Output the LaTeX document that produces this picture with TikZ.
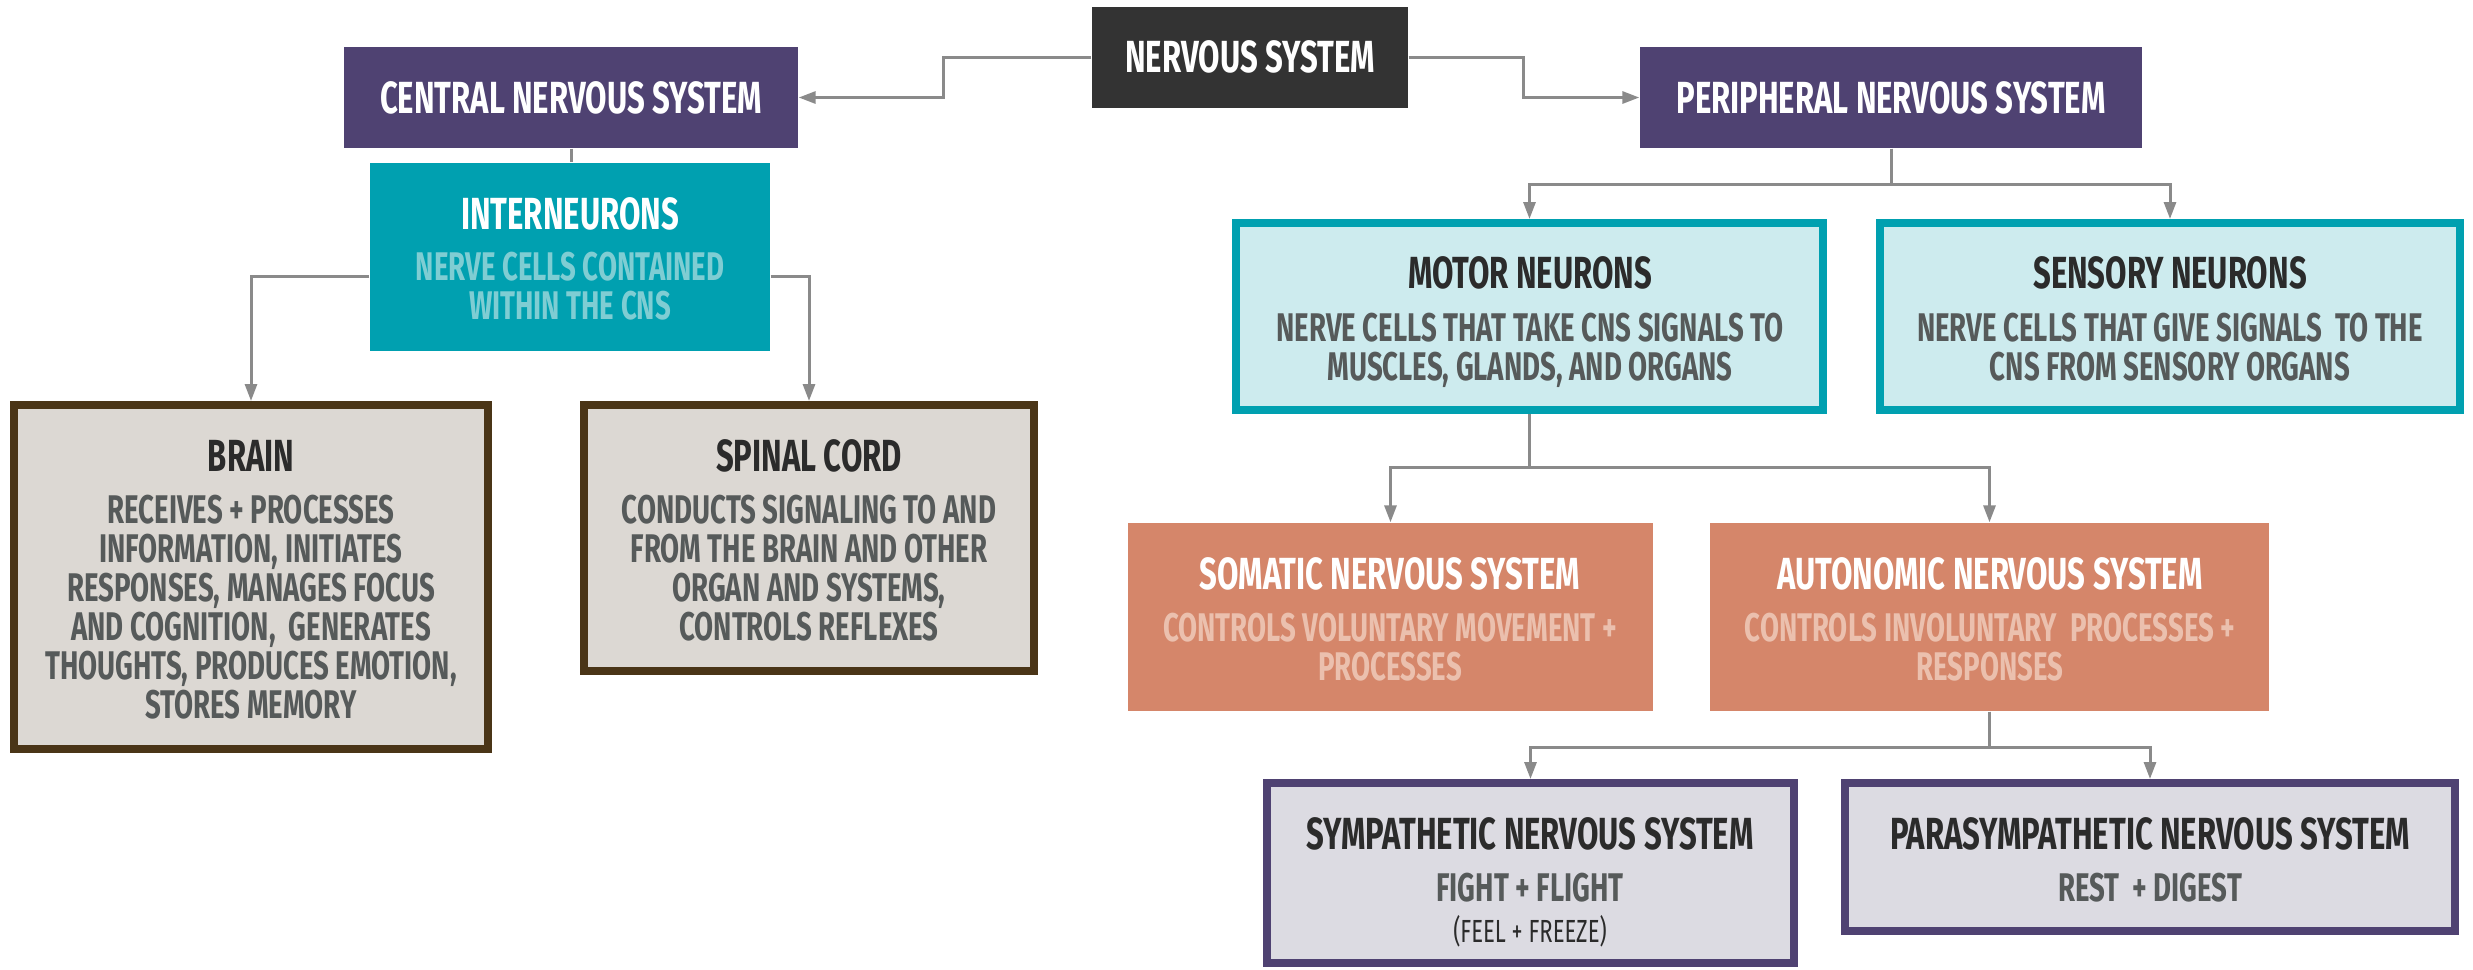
\documentclass[tikz,border=0pt]{standalone}
\usepackage{fontspec}
\setmainfont{Fira Sans}[FakeStretch=0.69]
\usetikzlibrary{arrows.meta}
\definecolor{nsdark}{HTML}{333333}
\definecolor{purp}{HTML}{4F4272}
\definecolor{teal}{HTML}{00A0B0}
\definecolor{tealtxt}{HTML}{7FCDD3}
\definecolor{motorfill}{HTML}{CDEBEE}
\definecolor{darktxt}{HTML}{2B2B2B}
\definecolor{greytxt}{HTML}{565A5A}
\definecolor{brainfill}{HTML}{DCD8D3}
\definecolor{brainborder}{HTML}{4A3517}
\definecolor{orng}{HTML}{D5866A}
\definecolor{orngtxt}{HTML}{EBC0AE}
\definecolor{lavfill}{HTML}{DCDBE2}
\definecolor{linegray}{HTML}{8A8A8A}
\newcommand\tlines[5]{%
  \foreach \t [count=\i] in {#5} {\node[#4] (#1-\i) at (#2,{#3+39*(\i-1)}) {\t};}}
\begin{document}
\begin{tikzpicture}[x=0.3pt,y=-0.3pt,
  box/.style={inner sep=0pt,draw=none},
  fillbox/.style={box,fill=#1},
  framebox/.style 2 args={box,fill=#1,draw=#2,line width=2.4pt},
  title/.style={anchor=base,inner sep=0pt,font=\fontsize{13.5}{13.5}\selectfont\bfseries},
  desc/.style={anchor=base,inner sep=0pt,font=\fontsize{12}{12}\selectfont\bfseries},
  conn/.style={draw=linegray,line width=0.9pt},
  arr/.style={conn,-{Triangle[length=5.1pt,width=3.6pt]}}]
\useasboundingbox (0,0) rectangle (2473,969);
% boxes
\node[fillbox=nsdark,minimum width=316*0.3pt,minimum height=101*0.3pt] (ns) at (1250,57.5) {};
\node[fillbox=purp,minimum width=454*0.3pt,minimum height=101*0.3pt] (cns) at (571,97.5) {};
\node[fillbox=purp,minimum width=502*0.3pt,minimum height=101*0.3pt] (pns) at (1891,97.5) {};
\node[fillbox=teal,minimum width=400*0.3pt,minimum height=188*0.3pt] (int) at (570,257) {};
\node[framebox={motorfill}{teal},minimum width=587*0.3pt,minimum height=187*0.3pt] (motor) at (1529.5,316.5) {};
\node[framebox={motorfill}{teal},minimum width=580*0.3pt,minimum height=187*0.3pt] (sensory) at (2170,316.5) {};
\node[framebox={brainfill}{brainborder},minimum width=474*0.3pt,minimum height=344*0.3pt] (brain) at (251,577) {};
\node[framebox={brainfill}{brainborder},minimum width=450*0.3pt,minimum height=266*0.3pt] (spinal) at (809,538) {};
\node[fillbox=orng,minimum width=525*0.3pt,minimum height=188*0.3pt] (somatic) at (1390.5,617) {};
\node[fillbox=orng,minimum width=559*0.3pt,minimum height=188*0.3pt] (autonomic) at (1989.5,617) {};
\node[framebox={lavfill}{purp},minimum width=527*0.3pt,minimum height=180*0.3pt] (sym) at (1530.5,873) {};
\node[framebox={lavfill}{purp},minimum width=610*0.3pt,minimum height=148*0.3pt] (para) at (2150,857) {};
% connectors
\draw[arr] (ns.west) -- ++(-148,0) |- (cns.east);
\draw[arr] (ns.east) -- ++(115,0) |- (pns.west);
\draw[conn] (cns.south) -- (cns.south |- int.north);
\draw[arr] ([yshift=-5.7pt]int.west) -| (brain.north);
\draw[arr] ([yshift=-5.7pt]int.east) -| (spinal.north);
\draw[arr] (pns.south) -- ++(0,36) -| (motor.north);
\draw[arr] (pns.south) -- ++(0,36) -| (sensory.north);
\draw[arr] (motor.south) -- ++(0,53) -| (somatic.north);
\draw[arr] (motor.south) -- ++(0,53) -| (autonomic.north);
\draw[arr] (autonomic.south) -- ++(0,36) -| (sym.north);
\draw[arr] (autonomic.south) -- ++(0,36) -| (para.north);
% texts
\node[title,white] (ns-t) at (1250,72) {NERVOUS SYSTEM};
\node[title,white] (cns-t) at (571,113) {CENTRAL NERVOUS SYSTEM};
\node[title,white] (pns-t) at (1891,113) {PERIPHERAL NERVOUS SYSTEM};
\node[title,white] (int-t) at (570,229) {INTERNEURONS};
\tlines{int-d}{570}{280}{desc,tealtxt}{NERVE CELLS CONTAINED,WITHIN THE CNS}
\node[title,darktxt] (motor-t) at (1530,288) {MOTOR NEURONS};
\tlines{motor-d}{1530}{341}{desc,greytxt}{NERVE CELLS THAT TAKE CNS SIGNALS TO,{MUSCLES, GLANDS, AND ORGANS}}
\node[title,darktxt] (sensory-t) at (2170,288) {SENSORY NEURONS};
\tlines{sensory-d}{2170}{341}{desc,greytxt}{NERVE CELLS THAT GIVE SIGNALS\ \ TO THE,CNS FROM SENSORY ORGANS}
\node[title,darktxt] (brain-t) at (251,471) {BRAIN};
\tlines{brain-d}{251}{523}{desc,greytxt}{RECEIVES + PROCESSES,{INFORMATION, INITIATES},{RESPONSES, MANAGES FOCUS},{AND COGNITION,\ \ GENERATES},{THOUGHTS, PRODUCES EMOTION,},STORES MEMORY}
\node[title,darktxt] (spinal-t) at (809,471) {SPINAL CORD};
\tlines{spinal-d}{809}{523}{desc,greytxt}{CONDUCTS SIGNALING TO AND,FROM THE BRAIN AND OTHER,{ORGAN AND SYSTEMS,},CONTROLS REFLEXES}
\node[title,white] (somatic-t) at (1390,589) {SOMATIC NERVOUS SYSTEM};
\tlines{somatic-d}{1390}{641}{desc,orngtxt}{CONTROLS VOLUNTARY MOVEMENT +,PROCESSES}
\node[title,white] (autonomic-t) at (1990,589) {AUTONOMIC NERVOUS SYSTEM};
\tlines{autonomic-d}{1990}{641}{desc,orngtxt}{CONTROLS INVOLUNTARY\ \ PROCESSES +,RESPONSES}
\node[title,darktxt] (sym-t) at (1530,849) {SYMPATHETIC NERVOUS SYSTEM};
\node[desc,greytxt] (sym-d) at (1530,901) {FIGHT + FLIGHT};
\node[anchor=base,inner sep=0pt,font=\fontsize{9.6}{9.6}\selectfont,darktxt] (sym-e) at (1530,942) {(FEEL + FREEZE)};
\node[title,darktxt] (para-t) at (2150,849) {PARASYMPATHETIC NERVOUS SYSTEM};
\node[desc,greytxt] (para-d) at (2150,901) {REST\ \ + DIGEST};
\end{tikzpicture}
\end{document}
